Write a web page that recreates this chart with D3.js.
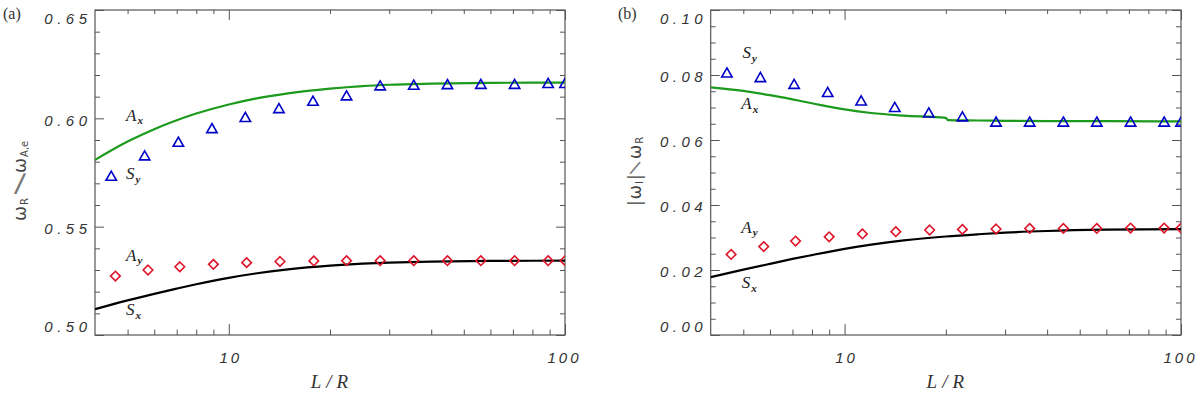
<!DOCTYPE html>
<html><head><meta charset="utf-8">
<script src="https://cdn.jsdelivr.net/npm/d3@7"></script>
<style>body{margin:0;background:#fff} svg{display:block}</style>
</head><body><div id="chart"></div>
<script>
// ---------------- data ----------------
const xDomain = [4, 100];
const xMajorTicks = [10, 100];
const xTickLabels = ["10", "100"];
const xMinorTicks = [5, 6, 7, 8, 9, 20, 30, 40, 50, 60, 70, 80, 90];

const triX = [4.47, 5.62, 7.08, 8.91, 11.2, 14.1, 17.8, 22.4, 28.2, 35.5, 44.7, 56.2, 70.8, 89.1, 100];
const diaX = [4.6, 5.75, 7.15, 9.0, 11.3, 14.2, 17.9, 22.4, 28.2, 35.5, 44.7, 56.2, 70.8, 89.1, 100];
const curveX = [4, 5, 6, 7, 8, 10, 12, 15, 20, 25, 30, 40, 60, 100];
const bAxX = [4, 5, 6, 7, 8, 10, 12, 15, 20, 20.3, 25, 30, 40, 60, 100];

// panel (a): omega_R / omega_A,e
const aYTicks = [0.50, 0.55, 0.60, 0.65];
const aYTickLabels = ["0.50", "0.55", "0.60", "0.65"];
const aYMinor = [0.51, 0.52, 0.53, 0.54, 0.56, 0.57, 0.58, 0.59, 0.61, 0.62, 0.63, 0.64];
const aSyTri = [0.5734, 0.5828, 0.5891, 0.5954, 0.6005, 0.6046, 0.6080, 0.6105, 0.6151, 0.6154, 0.6157, 0.6158, 0.6158, 0.6162, 0.6162];
const aAyDia = [0.5272, 0.5300, 0.5315, 0.5326, 0.5334, 0.5339, 0.5342, 0.5343, 0.5343, 0.5343, 0.5343, 0.5343, 0.5343, 0.5343, 0.5343];
const aAxLine = [0.5808, 0.5893, 0.5950, 0.5991, 0.6022, 0.6064, 0.6091, 0.6115, 0.6137, 0.6149, 0.6155, 0.6160, 0.6164, 0.6165];
const aSxLine = [0.5119, 0.5160, 0.5190, 0.5214, 0.5234, 0.5264, 0.5284, 0.5303, 0.5320, 0.5329, 0.5334, 0.5339, 0.5342, 0.5343];

// panel (b): |omega_I| / omega_R
const bYTicks = [0.00, 0.02, 0.04, 0.06, 0.08, 0.10];
const bYTickLabels = ["0.00", "0.02", "0.04", "0.06", "0.08", "0.10"];
const bYMinor = [0.005, 0.010, 0.015, 0.025, 0.030, 0.035, 0.045, 0.050, 0.055, 0.065, 0.070, 0.075, 0.085, 0.090, 0.095];
const bSyTri = [0.0807, 0.0793, 0.0772, 0.0747, 0.0721, 0.0701, 0.0684, 0.0672, 0.0656, 0.0656, 0.0656, 0.0656, 0.0656, 0.0656, 0.0656];
const bAyDia = [0.0248, 0.0272, 0.0289, 0.0302, 0.0311, 0.0318, 0.0323, 0.0325, 0.0326, 0.0328, 0.0328, 0.0328, 0.0329, 0.0329, 0.0329];
const bAxLine = [0.0762, 0.0751, 0.0738, 0.0725, 0.0713, 0.0694, 0.0683, 0.0675, 0.0668, 0.0661, 0.0660, 0.0659, 0.0658, 0.0658, 0.0657];
const bSxLine = [0.0178, 0.0201, 0.0219, 0.0234, 0.0246, 0.0265, 0.0278, 0.0291, 0.0303, 0.0310, 0.0315, 0.0320, 0.0324, 0.0326];

// curve annotations [letter, subscript, x, y(baseline)]
const aNotes = [["A", "x", 4.95, 0.5990], ["S", "y", 4.95, 0.5719], ["A", "y", 4.95, 0.5342], ["S", "x", 4.95, 0.5092]];
const bNotes = [["S", "y", 4.97, 0.0851], ["A", "x", 4.93, 0.0694], ["A", "y", 4.93, 0.0315], ["S", "x", 4.95, 0.0144]];

// ---------------- drawing ----------------
const W = 1200, H = 395, TOP = 10, BOTTOM = 335;
const svg = d3.select("#chart").append("svg").attr("width", W).attr("height", H);
const defs = svg.append("defs");
const TICKFONT = "'Liberation Sans', Arial, sans-serif";
const LSY = 4.5, LSX = 3;

function drawPanel(p) {
  const x = d3.scaleLog().domain(xDomain).range([p.left, p.right]);
  const y = d3.scaleLinear().domain(p.yDomain).range([BOTTOM, TOP]);
  const g = svg.append("g");

  defs.append("clipPath").attr("id", "clip" + p.id).append("rect")
    .attr("x", p.left).attr("y", TOP).attr("width", p.right - p.left).attr("height", BOTTOM - TOP);

  const styleTicks = sel => {
    sel.select(".domain").remove();
    sel.selectAll(".tick line").attr("stroke", "#555").attr("stroke-width", 1);
  };

  // minor ticks
  g.append("g").attr("transform", `translate(${p.left},0)`)
    .call(d3.axisLeft(y).tickValues(p.yMinor).tickSize(-5).tickFormat("")).call(styleTicks);
  g.append("g").attr("transform", `translate(${p.right},0)`)
    .call(d3.axisRight(y).tickValues(p.yMinor).tickSize(-5).tickFormat("")).call(styleTicks);
  g.append("g").attr("transform", `translate(0,${BOTTOM})`)
    .call(d3.axisBottom(x).tickValues(xMinorTicks).tickSize(-5.5).tickFormat("")).call(styleTicks);
  g.append("g").attr("transform", `translate(0,${TOP})`)
    .call(d3.axisTop(x).tickValues(xMinorTicks).tickSize(-4).tickFormat("")).call(styleTicks);

  // major ticks + labels
  const yl = g.append("g").attr("transform", `translate(${p.left},0)`)
    .call(d3.axisLeft(y).tickValues(p.yTicks).tickSize(-9).tickPadding(8)
      .tickFormat((d, i) => p.yLabels[i]))
    .call(styleTicks);
  yl.selectAll(".tick text")
    .attr("font-family", TICKFONT).attr("font-style", "italic").attr("font-size", 15)
    .attr("letter-spacing", LSY).attr("fill", "#333")
    .attr("x", -8 + LSY)
    .attr("y", d => {
      const c = Math.max(TOP + 9, Math.min(BOTTOM - 8, y(d) + 2));
      return c - y(d);
    });
  g.append("g").attr("transform", `translate(${p.right},0)`)
    .call(d3.axisRight(y).tickValues(p.yTicks).tickSize(-9).tickFormat("")).call(styleTicks);
  const xl = g.append("g").attr("transform", `translate(0,${BOTTOM})`)
    .call(d3.axisBottom(x).tickValues(xMajorTicks).tickSize(-11).tickPadding(17)
      .tickFormat((d, i) => xTickLabels[i]))
    .call(styleTicks);
  xl.selectAll(".tick text")
    .attr("font-family", TICKFONT).attr("font-style", "italic").attr("font-size", 15)
    .attr("letter-spacing", LSX).attr("fill", "#333").attr("dx", d => d === 100 ? -1 : LSX / 2);
  g.append("g").attr("transform", `translate(0,${TOP})`)
    .call(d3.axisTop(x).tickValues(xMajorTicks).tickSize(-10).tickFormat("")).call(styleTicks);

  // frame
  g.append("rect").attr("x", p.left).attr("y", TOP)
    .attr("width", p.right - p.left).attr("height", BOTTOM - TOP)
    .attr("fill", "none").attr("stroke", "#555").attr("stroke-width", 1.2);

  // data
  const plot = g.append("g").attr("clip-path", `url(#clip${p.id})`);
  const line = d3.line().x(d => x(d[0])).y(d => y(d[1])).curve(d3.curveMonotoneX);
  plot.append("path").datum(d3.zip(p.axX, p.axLine)).attr("d", line)
    .attr("fill", "none").attr("stroke", "#1b9a1b").attr("stroke-width", 2.2);
  plot.append("path").datum(d3.zip(curveX, p.sxLine)).attr("d", line)
    .attr("fill", "none").attr("stroke", "#000").attr("stroke-width", 2.2);

  plot.selectAll("path.tri").data(d3.zip(triX, p.tri)).join("path").attr("class", "tri")
    .attr("d", "M0,-4.8L5.2,4.3L-5.2,4.3Z")
    .attr("transform", d => `translate(${x(d[0])},${y(d[1])})`)
    .attr("fill", "none").attr("stroke", "#0000c8").attr("stroke-width", 1.6);
  plot.selectAll("path.dia").data(d3.zip(diaX, p.dia)).join("path").attr("class", "dia")
    .attr("d", "M0,-4.8L4.8,0L0,4.8L-4.8,0Z")
    .attr("transform", d => `translate(${x(d[0])},${y(d[1])})`)
    .attr("fill", "none").attr("stroke", "#dd1428").attr("stroke-width", 1.6);

  // annotations
  p.notes.forEach(n => {
    const t = g.append("text").attr("x", x(n[2])).attr("y", y(n[3]))
      .attr("font-family", "'Liberation Serif', serif").attr("font-style", "italic").attr("fill", "#222");
    t.append("tspan").attr("font-size", 17).text(n[0]);
    t.append("tspan").attr("font-size", 11).attr("font-weight", "bold").attr("dx", 1).attr("dy", 3.5).text(n[1]);
  });

  // x title
  g.append("text").attr("x", (p.left + p.right) / 2 + 2).attr("y", 388)
    .attr("text-anchor", "middle").attr("font-family", "'Liberation Serif', serif")
    .attr("font-style", "italic").attr("font-size", 19).attr("letter-spacing", 5)
    .attr("fill", "#333").text("L/R");

  // panel label
  g.append("text").attr("x", p.tagX).attr("y", 19)
    .attr("font-family", "'Liberation Serif', serif").attr("font-size", 16)
    .attr("fill", "#333").text(p.tag);

  // y title: rotated pieces + slash
  const yt = g.append("g").attr("font-family", "'DejaVu Sans', sans-serif").attr("fill", "#444");
  p.titlePieces.forEach(pc => {
    const t = yt.append("text").attr("transform", `translate(${pc.x},${pc.y}) rotate(-90)`);
    pc.parts.forEach(pt => {
      t.append("tspan").attr("font-size", pt[1]).attr("dy", pt[2] || 0).attr("dx", pt[3] || 0).text(pt[0]);
    });
  });
  yt.append("text").attr("font-family", "'Liberation Sans', sans-serif").attr("font-size", p.slash.size)
    .attr("text-anchor", "middle").attr("fill", "#777").attr("dy", "0.35em")
    .attr("transform", `translate(${p.slash.x},${p.slash.y}) rotate(${p.slash.rot})`)
    .text("/");
}

drawPanel({
  id: "a", left: 95, right: 565, yDomain: [0.50, 0.65],
  yTicks: aYTicks, yLabels: aYTickLabels, yMinor: aYMinor,
  tri: aSyTri, dia: aAyDia, axX: curveX, axLine: aAxLine, sxLine: aSxLine,
  notes: aNotes, tag: "(a)", tagX: 3,
  titlePieces: [
    { x: 26, y: 221, parts: [["ω", 18], ["R", 10, 2, 1]] },
    { x: 26, y: 173, parts: [["ω", 18], ["A,e", 10, 2, 1]] }
  ],
  slash: { x: 20, y: 184, size: 30, rot: 10 }
});

drawPanel({
  id: "b", left: 710.7, right: 1181, yDomain: [0.00, 0.10],
  yTicks: bYTicks, yLabels: bYTickLabels, yMinor: bYMinor,
  tri: bSyTri, dia: bAyDia, axX: bAxX, axLine: bAxLine, sxLine: bSxLine,
  notes: bNotes, tag: "(b)", tagX: 618,
  titlePieces: [
    { x: 641, y: 206, parts: [["|", 17], ["ω", 17, 0, 1], ["I", 10, 2, 1], ["|", 17, -2, 1]] },
    { x: 641, y: 159, parts: [["ω", 17], ["R", 10, 2, 1]] }
  ],
  slash: { x: 635, y: 168, size: 20, rot: 25 }
});
</script>
</body></html>
